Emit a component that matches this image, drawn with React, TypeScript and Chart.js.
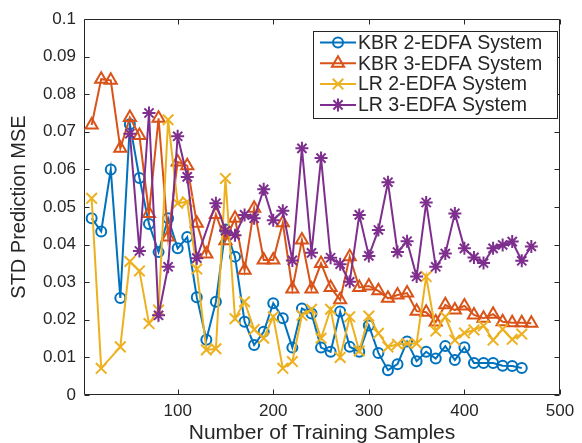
import React, { useEffect, useRef } from 'react';
import { Chart, registerables } from 'chart.js';
import { drawPoint } from 'chart.js/helpers';

Chart.register(...registerables);

// ---- data ----
const samplesKbr2 = [10, 20, 30, 40, 50, 60, 70, 80, 90, 100, 110, 120, 130, 140, 150, 160, 170, 180, 190, 200, 210, 220, 230, 240, 250, 260, 270, 280, 290, 300, 310, 320, 330, 340, 350, 360, 370, 380, 390, 400, 410, 420, 430, 440, 450, 460];
const kbr2 = [0.047, 0.0435, 0.060, 0.0258, 0.072, 0.0577, 0.0455, 0.038, 0.047, 0.039, 0.042, 0.026, 0.0147, 0.0248, 0.044, 0.0368, 0.0195, 0.0133, 0.0168, 0.0244, 0.0204, 0.0126, 0.023, 0.0217, 0.0126, 0.0115, 0.0222, 0.0128, 0.0115, 0.0185, 0.0112, 0.0066, 0.0082, 0.0142, 0.009, 0.0115, 0.0097, 0.013, 0.0093, 0.0127, 0.0085, 0.0085, 0.0085, 0.0078, 0.0077, 0.0072];

const samplesKbr3 = [10, 20, 30, 40, 50, 60, 70, 80, 90, 100, 110, 120, 130, 140, 150, 160, 170, 180, 190, 200, 210, 220, 230, 240, 250, 260, 270, 280, 290, 300, 310, 320, 330, 340, 350, 360, 370, 380, 390, 400, 410, 420, 430, 440, 450, 460, 470];
const kbr3 = [0.0718, 0.084, 0.0837, 0.0656, 0.0738, 0.069, 0.0483, 0.0736, 0.042, 0.062, 0.061, 0.0457, 0.0375, 0.048, 0.041, 0.047, 0.0332, 0.0497, 0.0359, 0.0359, 0.0458, 0.0282, 0.0412, 0.0282, 0.035, 0.0286, 0.0253, 0.0368, 0.0286, 0.029, 0.0277, 0.0257, 0.0266, 0.0271, 0.0223, 0.022, 0.0194, 0.024, 0.0226, 0.0237, 0.0213, 0.0204, 0.0215, 0.0195, 0.0192, 0.0192, 0.0191];

const samplesLr2 = [10, 20, 40, 50, 60, 70, 80, 90, 100, 110, 120, 130, 140, 150, 160, 170, 180, 190, 200, 210, 220, 230, 240, 250, 260, 270, 280, 290, 300, 310, 320, 330, 340, 350, 360, 370, 380, 390, 400, 410, 420, 430, 440, 450, 460];
const lr2 = [0.0523, 0.0071, 0.0128, 0.0355, 0.033, 0.019, 0.0226, 0.0732, 0.051, 0.0514, 0.0335, 0.012, 0.0123, 0.0576, 0.0203, 0.0248, 0.0174, 0.0151, 0.0208, 0.0071, 0.0089, 0.0212, 0.0228, 0.0151, 0.0228, 0.01, 0.0208, 0.0117, 0.021, 0.0164, 0.0128, 0.0135, 0.0137, 0.0137, 0.0315, 0.017, 0.0208, 0.0146, 0.0165, 0.0173, 0.0184, 0.0146, 0.0175, 0.0148, 0.0162];

const samplesLr3 = [50, 60, 70, 80, 90, 100, 110, 120, 140, 150, 160, 170, 180, 190, 200, 210, 220, 230, 240, 250, 260, 270, 280, 290, 300, 310, 320, 330, 340, 350, 360, 370, 380, 390, 400, 410, 420, 430, 440, 450, 460, 470];
const lr3 = [0.0695, 0.0383, 0.075, 0.0212, 0.0341, 0.0688, 0.058, 0.0364, 0.051, 0.0437, 0.0425, 0.0479, 0.047, 0.0547, 0.0465, 0.049, 0.0358, 0.0656, 0.0378, 0.063, 0.0365, 0.0348, 0.0301, 0.0479, 0.037, 0.0439, 0.0566, 0.038, 0.0409, 0.0315, 0.0512, 0.0341, 0.0376, 0.0483, 0.039, 0.0366, 0.0351, 0.039, 0.0399, 0.0408, 0.0357, 0.0395];

const seriesNames = ['KBR 2-EDFA System', 'KBR 3-EDFA System', 'LR 2-EDFA System', 'LR 3-EDFA System'];
const seriesColors = ['#0072BD', '#D95319', '#EDB120', '#7E2F8E'];
const seriesMarkers = ['circle', 'triangle', 'crossRot', 'star'];
const seriesRadius = [5, 7, 7.5, 6.5];

const xTickValues = [100, 200, 300, 400, 500];
const yTickValues = [0, 0.01, 0.02, 0.03, 0.04, 0.05, 0.06, 0.07, 0.08, 0.09, 0.1];
const yTickLabels = ['0', '0.01', '0.02', '0.03', '0.04', '0.05', '0.06', '0.07', '0.08', '0.09', '0.1'];

const xTitle = 'Number of Training Samples';
const yTitle = 'STD Prediction MSE';

const ink = '#262626';
const family = '"Liberation Sans", Arial, Helvetica, sans-serif';

const pairs = (xs: number[], ys: number[]) => xs.map((x, i) => ({ x, y: ys[i] }));

const framePlugin = {
  id: 'frame',
  beforeDatasetsDraw(chart: any) {
    const { ctx, chartArea: a, scales } = chart;
    ctx.save();
    ctx.strokeStyle = ink;
    ctx.lineWidth = 1;
    const l = Math.round(a.left) + 0.5;
    const r = Math.round(a.right) - 0.5;
    const t = Math.round(a.top) + 0.5;
    const b = Math.round(a.bottom) - 0.5;
    ctx.beginPath();
    ctx.rect(l, t, r - l, b - t);
    const tl = 5;
    for (const v of xTickValues) {
      const px = Math.round(scales.x.getPixelForValue(v)) + 0.5;
      ctx.moveTo(px, b);
      ctx.lineTo(px, b - tl);
      ctx.moveTo(px, t);
      ctx.lineTo(px, t + tl);
    }
    for (const v of yTickValues) {
      const py = Math.round(scales.y.getPixelForValue(v)) + 0.5;
      ctx.moveTo(l, py);
      ctx.lineTo(l + tl, py);
      ctx.moveTo(r, py);
      ctx.lineTo(r - tl, py);
    }
    ctx.stroke();
    ctx.restore();
  },
};

const legendPlugin = {
  id: 'boxLegend',
  afterDatasetsDraw(chart: any) {
    const { ctx } = chart;
    const bx = 313, by = 31, bw = 244, bh = 87;
    ctx.save();
    ctx.fillStyle = '#ffffff';
    ctx.fillRect(bx, by, bw, bh);
    ctx.strokeStyle = ink;
    ctx.lineWidth = 1;
    ctx.strokeRect(bx + 0.5, by + 0.5, bw, bh);
    ctx.font = `19.5px ${family}`;
    ctx.textBaseline = 'middle';
    ctx.textAlign = 'left';
    seriesNames.forEach((name, i) => {
      const y = by + 11.5 + i * 20.8;
      ctx.strokeStyle = seriesColors[i];
      ctx.lineWidth = 2;
      ctx.beginPath();
      ctx.moveTo(320, y);
      ctx.lineTo(356, y);
      ctx.stroke();
      ctx.fillStyle = 'rgba(0,0,0,0)';
      ctx.strokeStyle = seriesColors[i];
      ctx.lineWidth = 2;
      drawPoint(ctx, { pointStyle: seriesMarkers[i], radius: seriesRadius[i], borderWidth: 2, rotation: 0 } as any, 338, y);
      ctx.fillStyle = ink;
      ctx.fillText(name, 358, y + 1);
    });
    ctx.restore();
  },
};

export default function App() {
  const ref = useRef<HTMLCanvasElement>(null);
  useEffect(() => {
    if (!ref.current) return;
    const xs = [samplesKbr2, samplesKbr3, samplesLr2, samplesLr3];
    const ys = [kbr2, kbr3, lr2, lr3];
    const chart = new Chart(ref.current, {
      type: 'line',
      data: {
        datasets: seriesNames.map((name, i) => ({
          label: name,
          data: pairs(xs[i], ys[i]),
          borderColor: seriesColors[i],
          backgroundColor: 'rgba(0,0,0,0)',
          borderWidth: 2,
          pointStyle: seriesMarkers[i] as any,
          pointRadius: seriesRadius[i],
          pointBorderWidth: 2,
          pointBorderColor: seriesColors[i],
          pointBackgroundColor: 'rgba(0,0,0,0)',
          tension: 0,
          fill: false,
          order: 4 - i,
        })),
      },
      options: {
        animation: false,
        responsive: false,
        maintainAspectRatio: false,
        devicePixelRatio: 1,
        layout: { padding: { top: 19, right: 22, left: 0, bottom: 0 } },
        plugins: { legend: { display: false }, tooltip: { enabled: false } },
        scales: {
          x: {
            type: 'linear',
            min: 2,
            max: 500,
            grid: { display: false, drawTicks: false },
            border: { display: false },
            afterBuildTicks: (s: any) => { s.ticks = xTickValues.map((v) => ({ value: v })); },
            afterFit: (s: any) => { s.height = 48; },
            ticks: {
              autoSkip: false,
              maxRotation: 0,
              padding: 6,
              color: ink,
              font: { family, size: 17 },
              callback: (v: any) => String(v),
            },
            title: {
              display: true,
              text: xTitle,
              color: ink,
              font: { family, size: 21, lineHeight: 1 },
              padding: { top: 0, bottom: -1 },
            },
          },
          y: {
            type: 'linear',
            min: 0,
            max: 0.1,
            grid: { display: false, drawTicks: false },
            border: { display: false },
            afterBuildTicks: (s: any) => { s.ticks = yTickValues.map((v) => ({ value: v })); },
            afterFit: (s: any) => { s.width = 84; },
            ticks: {
              autoSkip: false,
              padding: 8,
              color: ink,
              font: { family, size: 17 },
              callback: (_v: any, idx: number) => yTickLabels[idx],
            },
            title: {
              display: true,
              text: yTitle,
              color: ink,
              font: { family, size: 20, lineHeight: 1 },
              padding: { top: 9, bottom: 0 },
            },
          },
        },
      },
      plugins: [framePlugin, legendPlugin],
    });
    return () => chart.destroy();
  }, []);
  return (
    <div style={{ position: 'fixed', left: 0, top: 0, width: 582, height: 443, background: '#fff' }}>
      <canvas ref={ref} width={582} height={443} style={{ width: 582, height: 443, display: 'block' }} />
    </div>
  );
}
